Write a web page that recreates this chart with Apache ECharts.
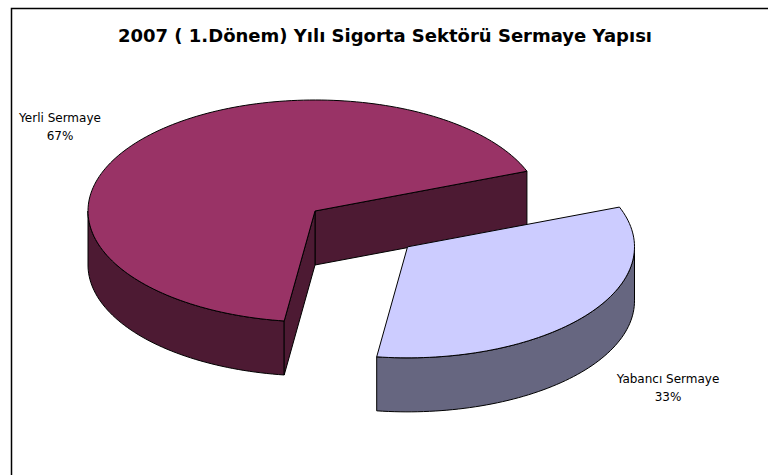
<!DOCTYPE html>
<html>
<head>
<meta charset="utf-8">
<script src="https://cdn.jsdelivr.net/npm/echarts@6/dist/echarts.min.js"></script>
<style>
html,body{margin:0;padding:0;background:#fff;}
#chart{width:768px;height:475px;}
</style>
</head>
<body>
<div id="chart"></div>
<script>
// ---- data ----
const titleText = '2007 ( 1.Dönem) Yılı Sigorta Sektörü Sermaye Yapısı';
const categories = ['Yerli Sermaye', 'Yabancı Sermaye'];
const values = [67, 33];

// ---- layout / style ----
const topColors = ['#993366', '#CCCCFF'];
const sideColors = ['#4D1A33', '#666680'];
const explode = [0, 0.52];
const CX = 315, CY = 211, RX = 227, RY = 111, DEPTH = 54;
const START_DEG = 21;

const total = values.reduce((a, b) => a + b, 0);
const pct = values.map(v => Math.round(v / total * 100) + '%');

function pt(cx, cy, deg, dy) {
  const r = deg * Math.PI / 180;
  return [cx + RX * Math.cos(r), cy - RY * Math.sin(r) + (dy || 0)];
}
function arcPts(cx, cy, a, b, dy) {
  const pts = [];
  const n = Math.max(2, Math.ceil(Math.abs(b - a) / 1.5));
  for (let i = 0; i <= n; i++) pts.push(pt(cx, cy, a + (b - a) * i / n, dy));
  return pts;
}
const edge = { stroke: '#000', lineWidth: 1, lineJoin: 'round' };

function renderItem(params, api) {
  const i = params.dataIndex;
  let cum = 0;
  for (let k = 0; k < i; k++) cum += values[k];
  const a = START_DEG + cum / total * 360;
  const b = a + values[i] / total * 360;
  const mid = (a + b) / 2 * Math.PI / 180;
  const cx = CX + RX * explode[i] * Math.cos(mid);
  const cy = CY - RY * explode[i] * Math.sin(mid);
  const children = [];
  // outer wall (front half only)
  [-360, 0, 360].forEach(k => {
    const s = Math.max(a, 180 + k), e = Math.min(b, 360 + k);
    if (e > s) {
      const top = arcPts(cx, cy, s, e, 0);
      const bot = arcPts(cx, cy, e, s, DEPTH);
      children.push({ type: 'polygon', shape: { points: top.concat(bot) },
        style: Object.assign({ fill: sideColors[i] }, edge) });
    }
  });
  // radial faces
  const faces = [[a, a - 90], [b, b + 90]];
  faces.forEach(([ang, nrm]) => {
    if (Math.sin(nrm * Math.PI / 180) < 0) {
      const p = pt(cx, cy, ang, 0), q = pt(cx, cy, ang, DEPTH);
      children.push({ type: 'polygon',
        shape: { points: [[cx, cy], p, q, [cx, cy + DEPTH]] },
        style: Object.assign({ fill: sideColors[i] }, edge) });
    }
  });
  // top face
  const topPts = [[cx, cy]].concat(arcPts(cx, cy, a, b, 0));
  children.push({ type: 'polygon', shape: { points: topPts },
    style: Object.assign({ fill: topColors[i] }, edge) });
  return { type: 'group', children };
}

const chart = echarts.init(document.getElementById('chart'), null, { renderer: 'svg' });
chart.setOption({
  animation: false,
  backgroundColor: '#fff',
  title: {
    text: titleText, left: 380, top: 21, textAlign: 'center',
    textStyle: { fontFamily: 'DejaVu Sans', fontSize: 18, fontWeight: 'bold', color: '#000' }
  },
  graphic: [
    { type: 'rect', left: 9, top: 6, z: -10, silent: true,
      shape: { width: 900, height: 600 }, style: { fill: 'none', stroke: '#000', lineWidth: 1.5 } },
    { type: 'text', x: 60, y: 127, silent: true,
      style: { text: categories[0] + '\n' + pct[0], textAlign: 'center', textVerticalAlign: 'middle',
        fontFamily: 'DejaVu Sans', fontSize: 12, lineHeight: 18, fill: '#000' } },
    { type: 'text', x: 668, y: 388, silent: true,
      style: { text: categories[1] + '\n' + pct[1], textAlign: 'center', textVerticalAlign: 'middle',
        fontFamily: 'DejaVu Sans', fontSize: 12, lineHeight: 18, fill: '#000' } }
  ],
  series: [{
    type: 'custom',
    coordinateSystem: 'none',
    renderItem: renderItem,
    data: values.map((v, i) => ({ name: categories[i], value: v }))
  }]
});
</script>
</body>
</html>
